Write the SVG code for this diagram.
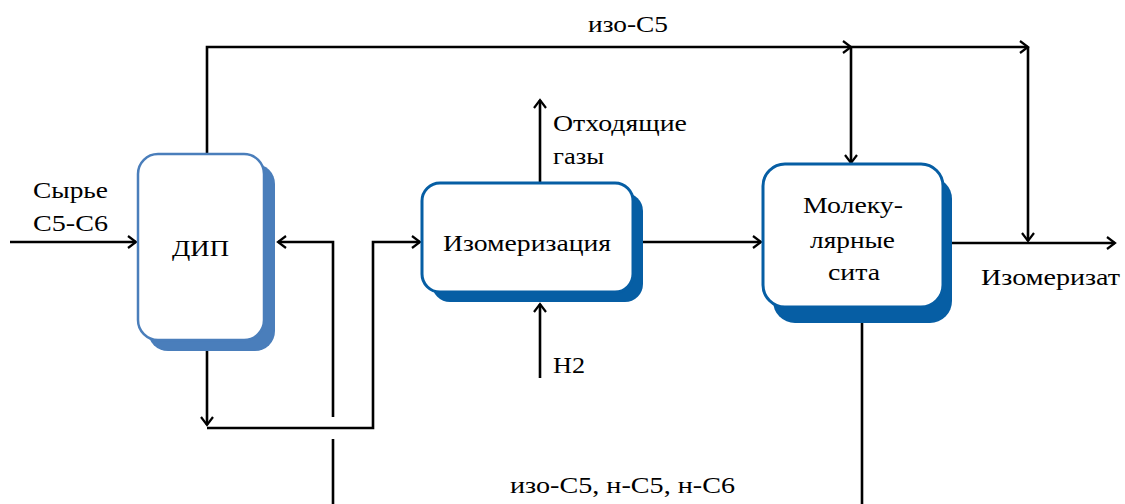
<svg xmlns="http://www.w3.org/2000/svg" width="1125" height="504" viewBox="0 0 1125 504">
  <style>
    .lbl { font-family: "Liberation Serif", "Times New Roman", "DejaVu Serif", serif; font-size: 24px; fill: #000; }
    .ctr { text-anchor: middle; }
    .flow { fill: none; stroke: #000; stroke-width: 2.6; stroke-linejoin: miter; }
    .arr { marker-end: url(#head); }
    .lightShadow { fill: #4a7ebb; }
    .lightFace { fill: #fff; stroke: #4a7ebb; stroke-width: 2.5; }
    .darkShadow { fill: #065ea4; }
    .darkFace { fill: #fff; stroke: #065ea4; stroke-width: 3; }
  </style>
  <defs>
    <marker id="head" markerUnits="userSpaceOnUse" markerWidth="12" markerHeight="14" refX="9" refY="6" orient="auto" overflow="visible">
      <path d="M1,0 L9,6 L1,12" fill="none" stroke="#000" stroke-width="2.2"/>
    </marker>
  </defs>

  <rect width="1125" height="504" fill="#fff"/>

  <!-- connectors -->
  <g id="connectors">
    <!-- feed into ДИП -->
    <path class="flow arr" d="M10,242 H136"/>
    <!-- iso-C5 overhead from ДИП -->
    <path class="flow arr" d="M207,153 V47 H851"/>
    <path class="flow arr" d="M851,47 H1028"/>
    <path class="flow arr" d="M851,47 V163"/>
    <path class="flow arr" d="M1028,47 V241"/>
    <!-- ДИП bottoms to isomerization -->
    <path class="flow arr" d="M207,340 V425"/>
    <path class="flow arr" d="M207,428 H373 V242 H420"/>
    <!-- recycle from sieves back to ДИП (with line jump) -->
    <path class="flow" d="M333,504 V439"/>
    <path class="flow arr" d="M333,417 V242 H278"/>
    <!-- off gases and hydrogen -->
    <path class="flow arr" d="M540,183 V100"/>
    <path class="flow arr" d="M540,378 V304"/>
    <!-- isomerization to sieves -->
    <path class="flow arr" d="M643,242 H761"/>
    <!-- isomerizate product -->
    <path class="flow arr" d="M952,243 H1115"/>
    <!-- sieves bottoms -->
    <path class="flow" d="M862,322 V504"/>
  </g>

  <!-- nodes -->
  <g id="dip">
    <rect class="lightShadow" x="148" y="164" width="127" height="187" rx="20"/>
    <rect class="lightFace" x="138" y="154" width="126" height="186" rx="20"/>
    <text class="lbl" x="172" y="256" textLength="57" lengthAdjust="spacingAndGlyphs">ДИП</text>
  </g>

  <g id="isomerization">
    <rect class="darkShadow" x="432" y="193" width="211" height="109" rx="18"/>
    <rect class="darkFace" x="422" y="183" width="211" height="109" rx="18"/>
    <text class="lbl" x="443" y="251" textLength="168" lengthAdjust="spacingAndGlyphs">Изомеризация</text>
  </g>

  <g id="sieves">
    <rect class="darkShadow" x="773" y="177" width="179" height="146" rx="22"/>
    <rect class="darkFace" x="763" y="164" width="180" height="143" rx="22"/>
    <text class="lbl" x="803" y="213" textLength="100" lengthAdjust="spacingAndGlyphs">Молеку-</text>
    <text class="lbl" x="810" y="248" textLength="85" lengthAdjust="spacingAndGlyphs">лярные</text>
    <text class="lbl" x="828" y="280" textLength="52" lengthAdjust="spacingAndGlyphs">сита</text>
  </g>

  <!-- stream labels -->
  <g id="labels">
    <text class="lbl" x="33" y="198" textLength="75" lengthAdjust="spacingAndGlyphs">Сырье</text>
    <text class="lbl" x="33" y="231" textLength="75" lengthAdjust="spacingAndGlyphs">C5-C6</text>
    <text class="lbl" x="588" y="32" textLength="80" lengthAdjust="spacingAndGlyphs">изо-C5</text>
    <text class="lbl" x="553" y="131" textLength="134" lengthAdjust="spacingAndGlyphs">Отходящие</text>
    <text class="lbl" x="553" y="164" textLength="51" lengthAdjust="spacingAndGlyphs">газы</text>
    <text class="lbl" x="553" y="373" textLength="32" lengthAdjust="spacingAndGlyphs">H2</text>
    <text class="lbl" x="981" y="285" textLength="139" lengthAdjust="spacingAndGlyphs">Изомеризат</text>
    <text class="lbl" x="510" y="493" textLength="225" lengthAdjust="spacingAndGlyphs">изо-C5, н-C5, н-C6</text>
  </g>
</svg>
